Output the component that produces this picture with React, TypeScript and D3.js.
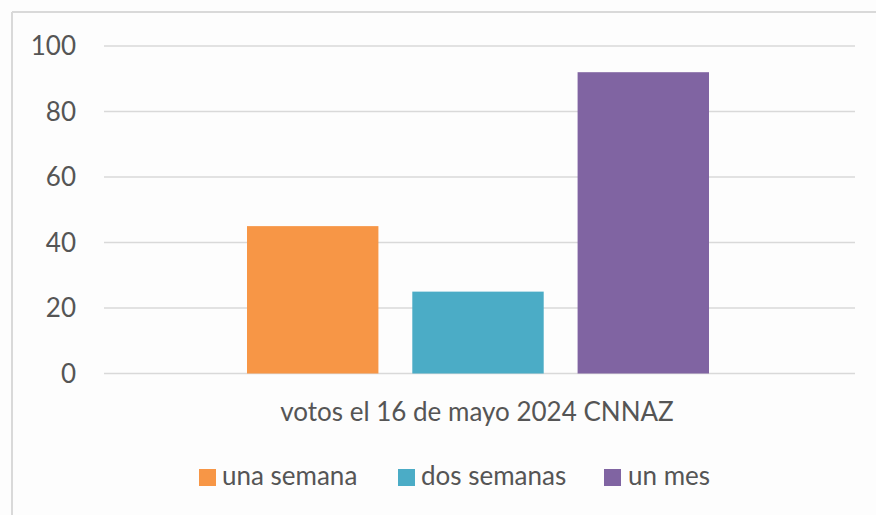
import React from "react";
import * as d3 from "d3";

const categories = ["votos el 16 de mayo 2024 CNNAZ"];
const seriesNames = ["una semana", "dos semanas", "un mes"];
const seriesValues = [45, 25, 92];
const seriesColors = ["#F79646", "#4BACC6", "#8064A2"];
const yTicks = [0, 20, 40, 60, 80, 100];

const W = 876;
const H = 515;
const FONT = "Lato, 'Liberation Sans', sans-serif";
const TEXT = "#555555";

export default function App() {
  const plotLeft = 104;
  const plotRight = 855;
  const y = d3.scaleLinear().domain([0, 100]).range([373.5, 46]);
  const xCat = d3.scaleBand().domain(categories).range([plotLeft, plotRight - 3]).paddingInner(0).paddingOuter(0);
  const groupWidth = 462;
  const groupStart = xCat(categories[0])! + xCat.bandwidth() / 2 - groupWidth / 2;
  const xSeries = d3
    .scaleBand()
    .domain(seriesNames)
    .range([groupStart, groupStart + groupWidth])
    .paddingInner(0.205)
    .paddingOuter(0);

  const legendItems = [
    { sx: 199, tx: 222 },
    { sx: 398, tx: 421 },
    { sx: 604, tx: 628 },
  ];

  return (
    <svg
      width={W}
      height={H}
      style={{ position: "absolute", left: 0, top: 0, background: "#fdfdfd" }}
      fontFamily={FONT}
    >
      <rect x={0} y={0} width={W} height={H} fill="#fdfdfd" />
      {/* frame */}
      <line x1={12} x2={W} y1={12} y2={12} stroke="#d9d9d9" strokeWidth={2} />
      <line x1={12} x2={12} y1={12} y2={H} stroke="#d9d9d9" strokeWidth={2} />
      {/* gridlines */}
      {yTicks.map((t) => (
        <line
          key={t}
          x1={plotLeft}
          x2={plotRight}
          y1={y(t)}
          y2={y(t)}
          stroke="#d9d9d9"
          strokeWidth={1.5}
        />
      ))}
      {/* y tick labels */}
      {yTicks.map((t) => (
        <text
          key={"l" + t}
          x={76}
          y={y(t)}
          dy="0.35em"
          textAnchor="end"
          fontSize={26}
          fill={TEXT}
        >
          {t}
        </text>
      ))}
      {/* bars */}
      {seriesNames.map((s, i) => (
        <rect
          key={s}
          x={xSeries(s)}
          width={xSeries.bandwidth()}
          y={y(seriesValues[i])}
          height={y(0) - y(seriesValues[i])}
          fill={seriesColors[i]}
        />
      ))}
      {/* category label */}
      {categories.map((c) => (
        <text
          key={c}
          x={xCat(c)! + xCat.bandwidth() / 2 - 1}
          y={421}
          textAnchor="middle"
          fontSize={26}
          fill={TEXT}
        >
          {c}
        </text>
      ))}
      {/* legend */}
      {seriesNames.map((s, i) => (
        <g key={"lg" + s}>
          <rect x={legendItems[i].sx} y={469} width={17} height={17} fill={seriesColors[i]} />
          <text x={legendItems[i].tx} y={485} fontSize={26} fill={TEXT}>
            {s}
          </text>
        </g>
      ))}
    </svg>
  );
}
